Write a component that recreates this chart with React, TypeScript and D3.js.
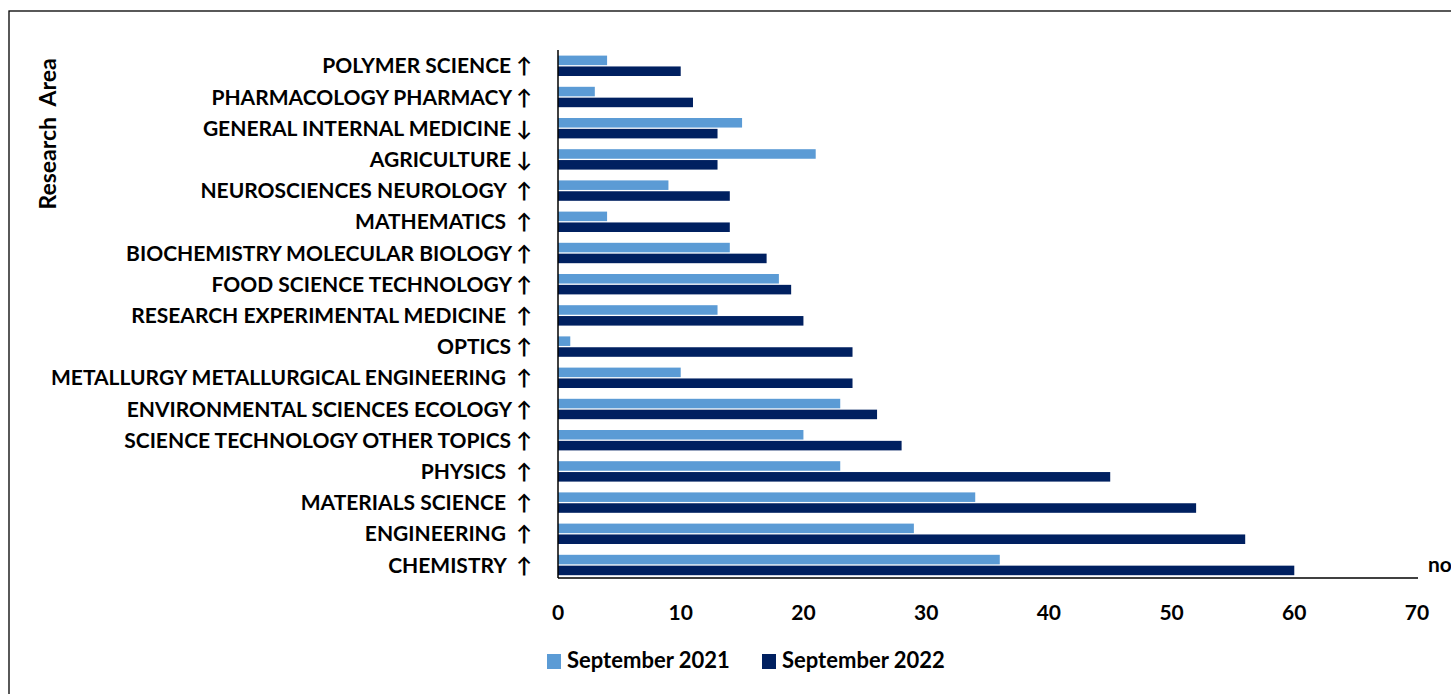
import * as d3 from 'd3';

// research areas, top to bottom as drawn
const categories = [
  'POLYMER SCIENCE ↑',
  'PHARMACOLOGY PHARMACY ↑',
  'GENERAL INTERNAL MEDICINE ↓',
  'AGRICULTURE ↓',
  'NEUROSCIENCES NEUROLOGY  ↑',
  'MATHEMATICS  ↑',
  'BIOCHEMISTRY MOLECULAR BIOLOGY ↑',
  'FOOD SCIENCE TECHNOLOGY ↑',
  'RESEARCH EXPERIMENTAL MEDICINE  ↑',
  'OPTICS ↑',
  'METALLURGY METALLURGICAL ENGINEERING  ↑',
  'ENVIRONMENTAL SCIENCES ECOLOGY ↑',
  'SCIENCE TECHNOLOGY OTHER TOPICS ↑',
  'PHYSICS  ↑',
  'MATERIALS SCIENCE  ↑',
  'ENGINEERING  ↑',
  'CHEMISTRY  ↑',
];

const sep2021 = [4, 3, 15, 21, 9, 4, 14, 18, 13, 1, 10, 23, 20, 23, 34, 29, 36];
const sep2022 = [10, 11, 13, 13, 14, 14, 17, 19, 20, 24, 24, 26, 28, 45, 52, 56, 60];

const seriesNames = ['September 2021', 'September 2022'];
const seriesColors = ['#5B9BD5', '#002060'];

const xTicks = [0, 10, 20, 30, 40, 50, 60, 70];

const W = 1451;
const H = 694;
const font = 'Lato, "Open Sans", sans-serif';

export default function App() {
  const x = d3.scaleLinear().domain([0, 70]).range([558, 1417]);
  const y = d3.scaleBand<string>().domain(categories).range([50.2, 580.6]);
  const step = y.step();
  const inner = d3
    .scaleBand<number>()
    .domain([0, 1])
    .range([step / 2 - 10.2, step / 2 + 10.2])
    .paddingInner(0.12);

  const series = [sep2021, sep2022];
  const axisY = 578;

  return (
    <svg
      width={W}
      height={H}
      style={{ position: 'absolute', left: 0, top: 0, display: 'block' }}
      fontFamily={font}
      fontWeight="bold"
    >
      <rect x={0} y={0} width={W} height={H} fill="#fff" />
      {/* outer frame, runs off the right and bottom */}
      <rect x={9} y={11} width={W + 20} height={H + 20} fill="none" stroke="#000" strokeWidth={1.3} />

      {/* bars */}
      {series.map((vals, si) =>
        vals.map((v, i) => (
          <rect
            key={`${si}-${i}`}
            x={x(0)}
            y={(y(categories[i]) ?? 0) + (inner(si) ?? 0)}
            width={x(v) - x(0)}
            height={inner.bandwidth()}
            fill={seriesColors[si]}
          />
        ))
      )}

      {/* axes */}
      <line x1={x(0)} x2={x(0)} y1={50} y2={axisY} stroke="#000" strokeWidth={1.5} />
      <line x1={x(0)} x2={1418} y1={axisY} y2={axisY} stroke="#000" strokeWidth={1.5} />

      {/* category labels */}
      {categories.map((c) => (
        <text
          key={c}
          x={532}
          y={(y(c) ?? 0) + step / 2}
          dy="0.36em"
          textAnchor="end"
          fontSize={21}
          fill="#000"
          style={{ whiteSpace: 'pre' }}
        >
          {c}
        </text>
      ))}

      {/* x tick labels */}
      {xTicks.map((t) => (
        <text key={t} x={x(t)} y={620} textAnchor="middle" fontSize={21} fill="#000">
          {t}
        </text>
      ))}

      {/* axis titles */}
      <text
        transform="translate(56,134) rotate(-90)"
        textAnchor="middle"
        fontSize={23}
        fill="#000"
        style={{ whiteSpace: 'pre' }}
      >
        {'Research  Area'}
      </text>
      <text x={1428} y={572} fontSize={21} fill="#000">
        no. of publications
      </text>

      {/* legend */}
      {seriesNames.map((s, i) => {
        const lx = i === 0 ? 547 : 762;
        return (
          <g key={s}>
            <rect x={lx} y={654} width={14} height={15} fill={seriesColors[i]} />
            <text x={lx + 20} y={668} fontSize={22} fill="#000">
              {s}
            </text>
          </g>
        );
      })}
    </svg>
  );
}
